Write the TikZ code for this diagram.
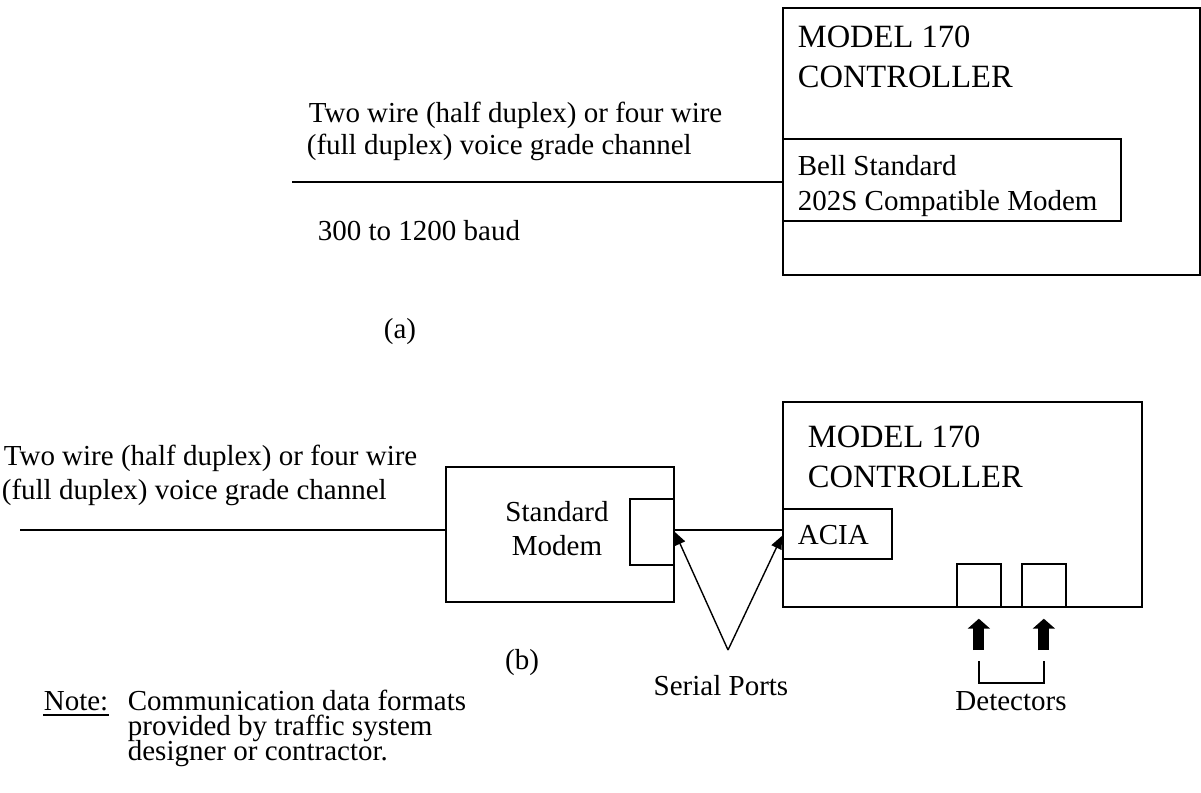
\documentclass[tikz,border=0pt]{standalone}
\usepackage{fontspec}
\setmainfont{Liberation Serif}
\usetikzlibrary{arrows.meta}
\begin{document}
\begin{tikzpicture}[x=1pt,y=-1pt,
  every path/.style={line width=1.7pt},
  txt/.style={inner sep=0pt,anchor=base west,font=\fontsize{29}{33}\selectfont},
  ctxt/.style={inner sep=0pt,anchor=base,font=\fontsize{29}{33}\selectfont},
  big/.style={inner sep=0pt,anchor=base west,font=\fontsize{32.5}{37}\selectfont},
  box/.style={draw,line width=1.7pt,inner sep=0pt,anchor=north west,fill=white},
  ptr/.style={-{Triangle[length=13pt,width=11pt]},line width=1.4pt},
  blk/.style={-{Triangle[length=10pt,width=22pt]},line width=11pt}
]
\useasboundingbox (0,0) rectangle (1201,792);

% ---------- (a) ----------
\node[box,minimum width=417pt,minimum height=267pt] (ctrlA) at (782,7) {};
\node[box,minimum width=338pt,minimum height=82pt] (modemA) at (782,138) {};
\node[big] (mA1) at (797,48) {MODEL 170};
\node[big] (mA2) at (797,87) {CONTROLLER};
\node[txt] (bA1) at (797,175) {Bell Standard};
\node[txt] (bA2) at (797,210) {202S Compatible Modem};
\coordinate (lA) at (292,182);
\draw (lA) -- (lA -| modemA.west);
\node[txt] (tA1) at (308,122) {Two wire (half duplex) or four wire};
\node[txt] (tA2) at (306,154) {(full duplex) voice grade channel};
\node[txt] (baud) at (317,240) {300 to 1200 baud};
\node[ctxt] (capA) at (400,338) {(a)};

% ---------- (b) ----------
\node[box,minimum width=228pt,minimum height=135pt] (modemB) at (445,466) {};
\node[box,minimum width=44pt,minimum height=66pt] (portB) at (629,498) {};
\node[ctxt] (sB1) at (557,521) {Standard};
\node[ctxt] (sB2) at (557,555) {Modem};
\node[box,minimum width=359pt,minimum height=205pt] (ctrlB) at (782,401) {};
\node[box,minimum width=109pt,minimum height=50pt] (aciaB) at (782,508) {};
\node[txt] (acia) at (797,544) {ACIA};
\node[big] (mB1) at (807,447) {MODEL 170};
\node[big] (mB2) at (807,487) {CONTROLLER};
\node[box,minimum width=44pt,minimum height=43pt] (det1) at (956,563) {};
\node[box,minimum width=44pt,minimum height=43pt] (det2) at (1021,563) {};

\coordinate (lB) at (20,530);
\draw (lB) -- (lB -| modemB.west);
\draw (portB.east |- 0,530) -- (aciaB.west |- 0,530);
\node[txt] (tB1) at (3,465) {Two wire (half duplex) or four wire};
\node[txt] (tB2) at (1,499) {(full duplex) voice grade channel};

% serial ports pointers
\coordinate (sp) at (728,650);
\draw[ptr] (sp) -- (portB.east);
\draw[ptr] (sp) -- ([yshift=-2pt]aciaB.west);
\node[ctxt] (serial) at (721,695) {Serial Ports};
\node[ctxt] (capB) at (522,669) {(b)};

% detector arrows
\coordinate (a1) at (det1.south |- 0,650);
\coordinate (a2) at (det2.south |- 0,650);
\draw[blk] (a1) -- ([yshift=-11pt]det1.south);
\draw[blk] (a2) -- ([yshift=-11pt]det2.south);
\draw (det1.south |- 0,661) -- (det1.south |- 0,683) -- (det2.south |- 0,683) -- (det2.south |- 0,661);
\node[ctxt] (detl) at (1011,710) {Detectors};

% note
\node[txt] (note) at (43,710) {Note:};
\draw[line width=1.4pt] ([yshift=-5pt]note.base west) -- ([yshift=-5pt]note.base east);
\node[txt] (n1) at (127,710) {Communication data formats};
\node[txt] (n2) at (127,735) {provided by traffic system};
\node[txt] (n3) at (127,760) {designer or contractor.};
\end{tikzpicture}
\end{document}
